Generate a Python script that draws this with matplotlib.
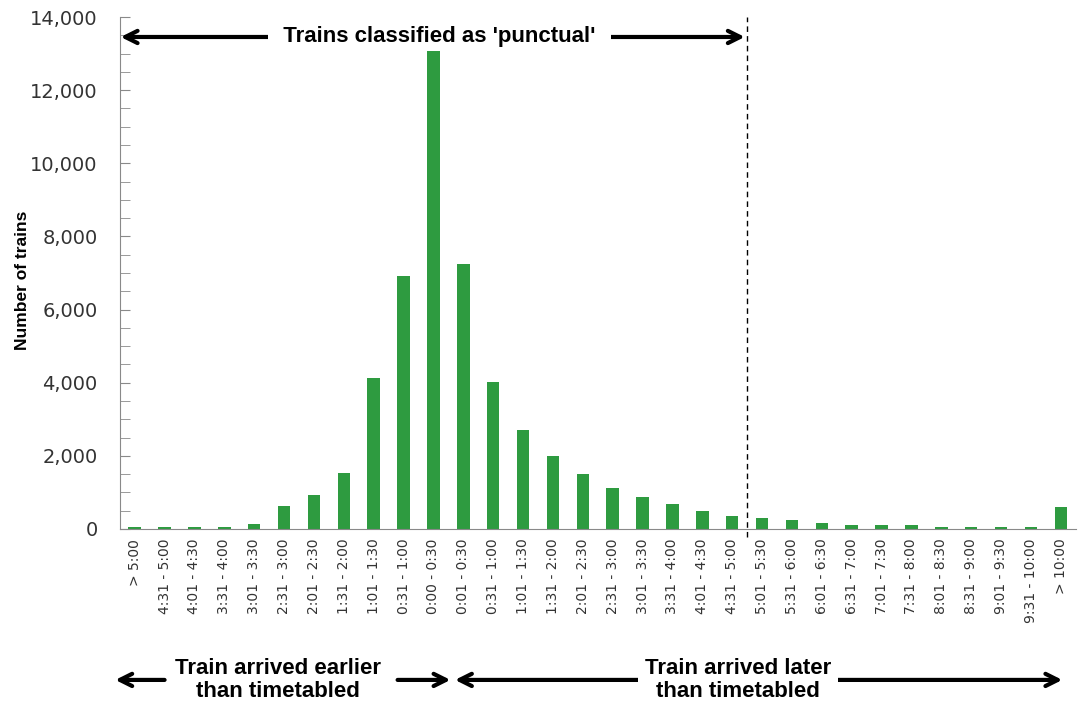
import matplotlib
matplotlib.use("Agg")
import matplotlib.pyplot as plt
from matplotlib import font_manager
from matplotlib.ticker import MultipleLocator, FuncFormatter

# Punctuality distribution: early side then late side
early_labels = ["> 5:00", "4:31 - 5:00", "4:01 - 4:30", "3:31 - 4:00", "3:01 - 3:30",
                "2:31 - 3:00", "2:01 - 2:30", "1:31 - 2:00", "1:01 - 1:30", "0:31 - 1:00",
                "0:00 - 0:30"]
late_labels = ["0:01 - 0:30", "0:31 - 1:00", "1:01 - 1:30", "1:31 - 2:00", "2:01 - 2:30",
               "2:31 - 3:00", "3:01 - 3:30", "3:31 - 4:00", "4:01 - 4:30", "4:31 - 5:00",
               "5:01 - 5:30", "5:31 - 6:00", "6:01 - 6:30", "6:31 - 7:00", "7:01 - 7:30",
               "7:31 - 8:00", "8:01 - 8:30", "8:31 - 9:00", "9:01 - 9:30", "9:31 - 10:00",
               "> 10:00"]
early_counts = [50, 50, 50, 60, 130, 630, 930, 1530, 4130, 6920, 13120]
late_counts = [7250, 4020, 2710, 2000, 1500, 1120, 875, 680, 490, 355,
               300, 250, 160, 110, 110, 110, 60, 60, 60, 60, 600]

labels = early_labels + late_labels
counts = early_counts + late_counts
punctual_limit = len(early_labels) + 9.5  # boundary after "4:31 - 5:00" late

# narrow bold font for the annotations if available
try:
    font_manager.findfont("Liberation Sans Narrow", fallback_to_default=False)
    narrow = "Liberation Sans Narrow"
except Exception:
    narrow = "Liberation Sans"

fig = plt.figure(figsize=(10.79, 7.09), dpi=100)
ax = fig.add_axes([0.111, 0.254, 0.886, 0.722])

x = list(range(len(labels)))
ax.bar(x, counts, width=0.42, color="#2e9b40")

ax.set_xlim(-0.5, len(labels) - 0.5)
ax.set_ylim(0, 14000)
ax.yaxis.set_major_locator(MultipleLocator(2000))
ax.yaxis.set_minor_locator(MultipleLocator(500))
ax.yaxis.set_major_formatter(FuncFormatter(lambda v, p: "{:,.0f}".format(v)))
ax.set_xticks(x)
ax.set_xticklabels(labels, rotation=90, fontsize=10, color="#333333")
ax.tick_params(axis="x", length=0, pad=7)
ax.tick_params(axis="y", which="major", direction="in", length=7, color="#898989",
               labelsize=14, labelcolor="#333333", pad=16)
ax.tick_params(axis="y", which="minor", direction="in", length=7, color="#898989")

for s in ["top", "right"]:
    ax.spines[s].set_visible(False)
for s in ["left", "bottom"]:
    ax.spines[s].set_color("#898989")

ax.set_ylabel("Number of trains", fontsize=12.5, fontweight="bold",
              family="Liberation Sans")
ax.yaxis.set_label_coords(-0.094, 0.485)

# dashed line marking the punctual limit
ax.plot([punctual_limit, punctual_limit], [-0.015, 1.0], transform=ax.get_xaxis_transform(),
        color="black", lw=1, ls=(0, (4, 3)), clip_on=False)

xy = ("data", "axes fraction")
arrow = dict(arrowstyle="<->", lw=3, color="black", mutation_scale=22,
             shrinkA=0, shrinkB=0)
one_way = dict(arrowstyle="->", lw=3, color="black", mutation_scale=22,
               shrinkA=0, shrinkB=0)
text_kw = dict(fontsize=16, fontweight="bold", family=narrow, ha="center", va="center",
               annotation_clip=False)

# top arrow: punctual range
ax.annotate("", xy=(-0.47, 0.961), xytext=(punctual_limit - 0.08, 0.961),
            xycoords=xy, textcoords=xy, arrowprops=arrow, annotation_clip=False)
ax.annotate("  Trains classified as 'punctual'  ", xy=(10.2, 0.961), xycoords=xy,
            bbox=dict(boxstyle="square,pad=0.15", fc="white", ec="none"), **text_kw)

# bottom arrows: early vs late
yb = -0.295
ax.annotate("", xy=(-0.65, yb), xytext=(1.0, yb), xycoords=xy, textcoords=xy,
            arrowprops=one_way, annotation_clip=False)
ax.annotate("", xy=(10.57, yb), xytext=(8.8, yb), xycoords=xy, textcoords=xy,
            arrowprops=one_way, annotation_clip=False)
ax.annotate("", xy=(10.72, yb), xytext=(31.05, yb), xycoords=xy, textcoords=xy,
            arrowprops=arrow, annotation_clip=False)
ax.annotate("Train arrived earlier\nthan timetabled", xy=(4.8, yb), xycoords=xy,
            linespacing=1.15, **text_kw)
ax.annotate("Train arrived later\nthan timetabled", xy=(20.2, yb), xycoords=xy,
            linespacing=1.15,
            bbox=dict(boxstyle="square,pad=0.3", fc="white", ec="none"), **text_kw)

fig.savefig("out.png", dpi=100)
